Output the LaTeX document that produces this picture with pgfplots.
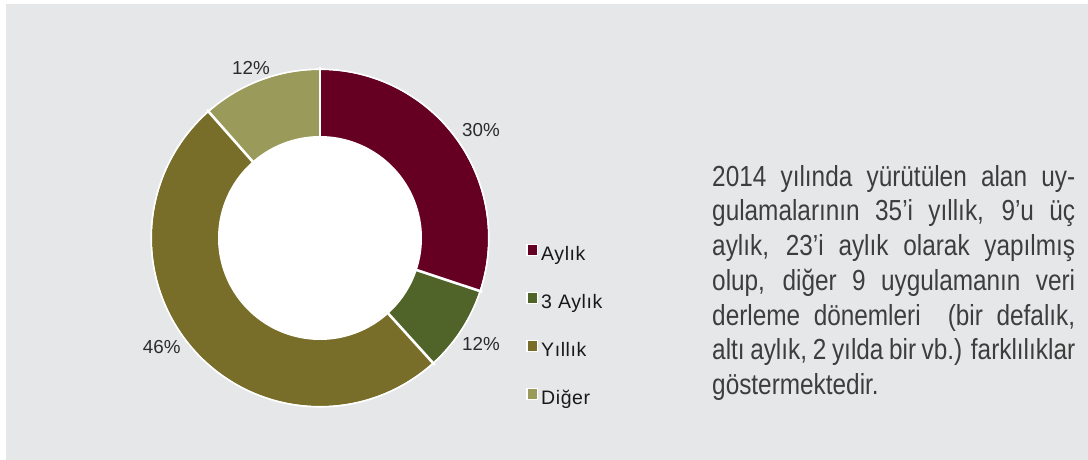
\documentclass[border=0pt]{standalone}
\usepackage{pgfplots}
\pgfplotsset{compat=1.18}
\usepackage{fontspec}
\setmainfont{Liberation Sans}
\newfontfamily\parafont[FakeStretch=0.84]{Liberation Sans}
\newfontfamily\legfont[LetterSpace=3]{Liberation Sans}
\definecolor{panel}{HTML}{E6E7E8}
\definecolor{aylik}{HTML}{650022}
\definecolor{ucaylik}{HTML}{506329}
\definecolor{yillik}{HTML}{786E29}
\definecolor{diger}{HTML}{9A9A5A}
\definecolor{labelc}{HTML}{2B2B2B}
\definecolor{parac}{HTML}{3D3D3D}
% slice shares (percent of the full circle)
\def\vA{30.1}
\def\vB{8.2}
\def\vC{50.2}
\def\vD{11.5}
\begin{document}
\begin{tikzpicture}
\useasboundingbox (0,0) rectangle (1088bp,460bp);
\fill[white] (0,0) rectangle (1088bp,460bp);
\fill[panel] (6bp,0) rectangle (1088bp,456bp);
\pgfmathsetmacro\aA{90}
\pgfmathsetmacro\aB{90-3.6*\vA}
\pgfmathsetmacro\aC{\aB-3.6*\vB}
\pgfmathsetmacro\aD{\aC-3.6*\vC}
\pgfmathsetmacro\aE{\aD-3.6*\vD}
\begin{axis}[
  x=1bp, y=1bp, xmin=0, xmax=1088, ymin=0, ymax=460,
  at={(0,0)}, anchor=south west,
  hide axis, clip=false,
  legend cell align=left,
  legend image code/.code={\filldraw[line width=1.3bp, draw=white] (0.65bp,-0.3bp) rectangle (11.35bp,10.7bp);},
  legend style={at={(axis cs:526,216.5)}, anchor=north west, draw=none, fill=none,
    inner sep=0pt, row sep=27.5bp, column sep=3bp,
    font=\fontsize{19.5bp}{22bp}\legfont,
    nodes={inner sep=0pt, text height=14.5bp, text depth=4bp, text=black!90}},
]
\addplot[aylik, line width=67bp, line cap=butt, domain=\aB:\aA, samples=120, variable=\t]
  ({320+134.5*cos(\t)},{222+134.5*sin(\t)});
\addlegendentry{Aylık}
\addplot[ucaylik, line width=67bp, line cap=butt, domain=\aC:\aB, samples=60, variable=\t]
  ({320+134.5*cos(\t)},{222+134.5*sin(\t)});
\addlegendentry{3 Aylık}
\addplot[yillik, line width=67bp, line cap=butt, domain=\aD:\aC, samples=200, variable=\t]
  ({320+134.5*cos(\t)},{222+134.5*sin(\t)});
\addlegendentry{Yıllık}
\addplot[diger, line width=67bp, line cap=butt, domain=\aE:\aD, samples=60, variable=\t]
  ({320+134.5*cos(\t)},{222+134.5*sin(\t)});
\addlegendentry{Diğer}
% white hole and outline
\addplot[forget plot, draw=none, fill=white, domain=0:360, samples=200, variable=\t]
  ({320+102*cos(\t)},{222+102*sin(\t)}) -- cycle;
\addplot[forget plot, white, line width=1.6bp, domain=0:360, samples=300, variable=\t]
  ({320+168.8*cos(\t)},{222+168.8*sin(\t)});
% white separators
\foreach \a in {\aA,\aB,\aC,\aD}{
  \edef\tmp{\noexpand\addplot[forget plot, white, line width=2.6bp, domain=99:171, samples=2, variable=\noexpand\t]
    ({320+\noexpand\t*cos(\a)},{222+\noexpand\t*sin(\a)});}
  \tmp
}
% percentage labels
\node[anchor=base, text=labelc, font=\fontsize{18.8bp}{22bp}\selectfont] at (axis cs:251,385) {12\%};
\node[anchor=base, text=labelc, font=\fontsize{18.8bp}{22bp}\selectfont] at (axis cs:481,323.3) {30\%};
\node[anchor=base, text=labelc, font=\fontsize{18.8bp}{22bp}\selectfont] at (axis cs:161.7,106) {46\%};
\node[anchor=base, text=labelc, font=\fontsize{18.8bp}{22bp}\selectfont] at (axis cs:481,109.3) {12\%};
\end{axis}
\node[anchor=north west, inner sep=0pt, text width=363bp, align=justify, text=parac,
  font=\fontsize{29bp}{34.7bp}\parafont] at (712bp,295bp)
{\hyphenpenalty=10000 2014 yılında yürütülen alan uy-\linebreak gulamalarının 35’i yıllık, 9’u üç\linebreak aylık, 23’i aylık olarak yapılmış\linebreak olup, diğer 9 uygulamanın veri\linebreak derleme dönemleri\ \ (bir defalık,\linebreak altı aylık, 2 yılda bir vb.) farklılıklar\linebreak göstermektedir.};
\end{tikzpicture}
\end{document}
